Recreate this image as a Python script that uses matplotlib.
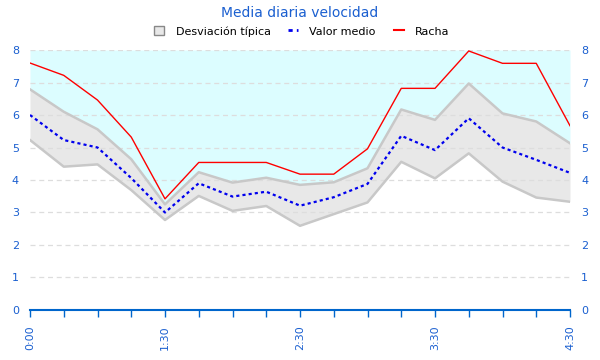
import matplotlib.pyplot as plt
import numpy as np
from matplotlib.patches import Patch
from matplotlib.lines import Line2D

# categorias (solo algunas etiquetas visibles)
labels = ["0:00", "", "", "", "1:30", "", "", "", "2:30",
          "", "", "", "3:30", "", "", "", "4:30"]

racha = [7.6, 7.22, 6.46, 5.32, 3.42, 4.54, 4.54, 4.54, 4.18,
         4.18, 4.96, 6.82, 6.82, 7.97, 7.59, 7.59, 5.67]
media = [6.0, 5.23, 5.0, 4.06, 3.0, 3.9, 3.49, 3.64, 3.21,
         3.47, 3.88, 5.36, 4.92, 5.9, 5.0, 4.62, 4.22]
desv_sup = [6.79, 6.1, 5.56, 4.64, 3.25, 4.24, 3.92, 4.07, 3.85,
            3.93, 4.36, 6.17, 5.85, 6.97, 6.05, 5.8, 5.13]
desv_inf = [5.23, 4.41, 4.48, 3.69, 2.77, 3.51, 3.05, 3.2, 2.59,
            2.95, 3.31, 4.56, 4.05, 4.82, 3.95, 3.46, 3.33]

azul = '#1a5fd0'
x = np.arange(len(labels))

fig = plt.figure(figsize=(6, 3.6), dpi=100)
ax = fig.add_axes([0.05, 0.1389, 0.9, 0.7222])

# fondo cian por encima de la banda
ax.fill_between(x, desv_sup, 8, color='#dcfdff', lw=0)
ax.fill_between(x, desv_inf, desv_sup, color='#e8e8e8', lw=0)
ax.plot(x, desv_sup, color='#c8c8c8', lw=1.8)
ax.plot(x, desv_inf, color='#c8c8c8', lw=1.8)

ax.plot(x, racha, color='red', lw=1)
ax.plot(x, media, color='#0000ee', lw=1.6, linestyle=(0, (1.4, 1.4)))

ax.set_xlim(0, len(labels) - 1)
ax.set_ylim(0, 8)
ax.set_yticks(range(0, 9))
ax.yaxis.grid(True, color='#dddddd', linestyle=(0, (4, 3)), lw=0.9)
for gl in ax.get_ygridlines():
    gl.set_zorder(0.5)

ax.set_xticks(x)
ax.set_xticklabels(labels, rotation=90, fontsize=8, color=azul)
ax.tick_params(axis='x', direction='out', length=5, color='#0066cc', width=1, pad=6)
ax.tick_params(axis='y', length=0, labelsize=8, labelcolor=azul, pad=8,
               labelleft=True, labelright=True)

for s in ['left', 'right', 'top']:
    ax.spines[s].set_visible(False)
ax.spines['bottom'].set_color('#0066cc')
ax.spines['bottom'].set_linewidth(1.5)

fig.text(0.5, 0.965, "Media diaria velocidad", ha='center', va='center',
         color=azul, fontsize=10)

handles = [
    Patch(facecolor='#e8e8e8', edgecolor='#888888', lw=1),
    Line2D([], [], color='#0000ee', lw=2, linestyle=(0, (1.5, 1.5))),
    Line2D([], [], color='red', lw=1.5),
]
fig.legend(handles, ["Desviación típica", "Valor medio", "Racha"],
           loc='center', bbox_to_anchor=(0.503, 0.913), ncol=3, frameon=False,
           fontsize=8, handlelength=0.9, handleheight=0.9, columnspacing=1.6,
           handletextpad=1.0)

fig.savefig('out.png', dpi=100)
